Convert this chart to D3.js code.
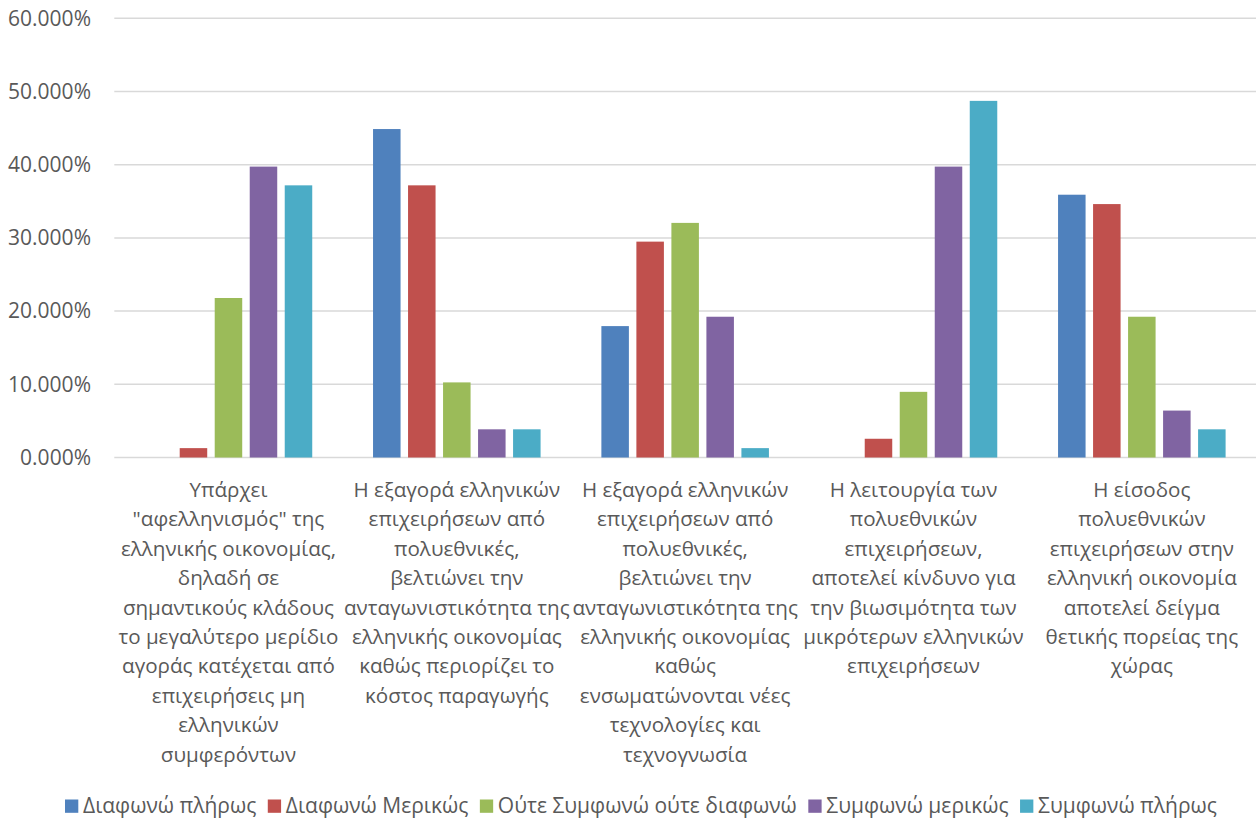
<!DOCTYPE html>
<html>
<head>
<meta charset="utf-8">
<script src="https://cdn.jsdelivr.net/npm/d3@7"></script>
<style>
  html, body { margin: 0; padding: 0; background: #ffffff; }
  svg { display: block; }
  text { font-family: "Open Sans", "Noto Sans", sans-serif; fill: #595959; }
</style>
</head>
<body>
<svg id="chart" width="1256" height="819"></svg>
<script>
// Statements (each split into the lines shown under the axis)
const categories = [
  ["Υπάρχει", "\"αφελληνισμός\" της", "ελληνικής οικονομίας,", "δηλαδή σε", "σημαντικούς κλάδους", "το μεγαλύτερο μερίδιο", "αγοράς κατέχεται από", "επιχειρήσεις μη", "ελληνικών", "συμφερόντων"],
  ["Η εξαγορά ελληνικών", "επιχειρήσεων από", "πολυεθνικές,", "βελτιώνει την", "ανταγωνιστικότητα της", "ελληνικής οικονομίας", "καθώς περιορίζει το", "κόστος παραγωγής"],
  ["Η εξαγορά ελληνικών", "επιχειρήσεων από", "πολυεθνικές,", "βελτιώνει την", "ανταγωνιστικότητα της", "ελληνικής οικονομίας", "καθώς", "ενσωματώνονται νέες", "τεχνολογίες και", "τεχνογνωσία"],
  ["Η λειτουργία των", "πολυεθνικών", "επιχειρήσεων,", "αποτελεί κίνδυνο για", "την βιωσιμότητα των", "μικρότερων ελληνικών", "επιχειρήσεων"],
  ["Η είσοδος", "πολυεθνικών", "επιχειρήσεων στην", "ελληνική οικονομία", "αποτελεί δείγμα", "θετικής πορείας της", "χώρας"]
];

// Answer scale
const seriesNames = ["Διαφωνώ πλήρως", "Διαφωνώ Μερικώς", "Ούτε Συμφωνώ ούτε διαφωνώ", "Συμφωνώ μερικώς", "Συμφωνώ πλήρως"];
const seriesColors = ["#4F81BD", "#C0504D", "#9BBB59", "#8064A2", "#4BACC6"];

// Share of responses (fraction) per answer, one entry per statement
const diafonoPliros   = [0.0000, 0.4487, 0.1795, 0.0000, 0.3590];
const diafonoMerikos  = [0.0128, 0.3718, 0.2949, 0.0256, 0.3462];
const oute            = [0.2179, 0.1026, 0.3205, 0.0897, 0.1923];
const symfonoMerikos  = [0.3974, 0.0385, 0.1923, 0.3974, 0.0641];
const symfonoPliros   = [0.3718, 0.0385, 0.0128, 0.4872, 0.0385];
const seriesValues = [diafonoPliros, diafonoMerikos, oute, symfonoMerikos, symfonoPliros];

const yTicks = [0, 0.1, 0.2, 0.3, 0.4, 0.5, 0.6];

const svg = d3.select("#chart");
const plot = { left: 114.3, right: 1256, top: 18.3, bottom: 457.5 };
const fontSize = "21px";
const labelFontSize = "20.6px";

const x0 = d3.scaleBand()
  .domain(d3.range(categories.length))
  .range([plot.left, plot.right])
  .paddingInner(0).paddingOuter(0);

const x1 = d3.scaleBand()
  .domain(d3.range(seriesNames.length))
  .range([30.4, x0.bandwidth() - 30.4])
  .paddingInner(0.2142).paddingOuter(0);

const y = d3.scaleLinear().domain([0, 0.6]).range([plot.bottom, plot.top]);

// Gridlines
svg.append("g")
  .selectAll("line")
  .data(yTicks)
  .join("line")
  .attr("x1", plot.left).attr("x2", plot.right)
  .attr("y1", d => y(d)).attr("y2", d => y(d))
  .attr("stroke", "#D9D9D9").attr("stroke-width", 1.5);

// Y axis labels
const yAxis = d3.axisLeft(y).tickValues(yTicks).tickFormat(d3.format(".3%")).tickSize(0).tickPadding(0);
const yg = svg.append("g").attr("transform", `translate(91,0)`).call(yAxis);
yg.select(".domain").remove();
yg.selectAll("text").attr("font-size", fontSize).attr("fill", "#595959")
  .style("font-family", "'Open Sans', sans-serif");

// Bars
const groups = svg.append("g")
  .selectAll("g")
  .data(categories.map((c, i) => i))
  .join("g")
  .attr("transform", i => `translate(${x0(i)},0)`);

groups.selectAll("rect")
  .data(i => seriesValues.map((vals, s) => ({ s, v: vals[i] })))
  .join("rect")
  .attr("x", d => x1(d.s))
  .attr("width", x1.bandwidth())
  .attr("y", d => y(d.v))
  .attr("height", d => y(0) - y(d.v))
  .attr("fill", d => seriesColors[d.s]);

// Category labels
const lineH = 29.4;
svg.append("g")
  .selectAll("text")
  .data(categories.map((lines, i) => ({ lines, i })))
  .join("text")
  .attr("text-anchor", "middle")
  .attr("font-size", labelFontSize)
  .each(function (d) {
    const t = d3.select(this);
    d.lines.forEach((ln, k) => {
      t.append("tspan")
        .attr("x", x0(d.i) + x0.bandwidth() / 2)
        .attr("y", 497 + k * lineH)
        .text(ln);
    });
  });

// Legend
const legend = svg.append("g");
let lx = 65;
seriesNames.forEach((name, s) => {
  legend.append("rect")
    .attr("x", lx).attr("y", 799.5).attr("width", 13.3).attr("height", 13.3)
    .attr("fill", seriesColors[s]);
  const t = legend.append("text")
    .attr("x", lx + 18).attr("y", 812.5)
    .attr("font-size", fontSize)
    .text(name);
  lx += 18 + t.node().getComputedTextLength() + 11.5;
});
</script>
</body>
</html>
